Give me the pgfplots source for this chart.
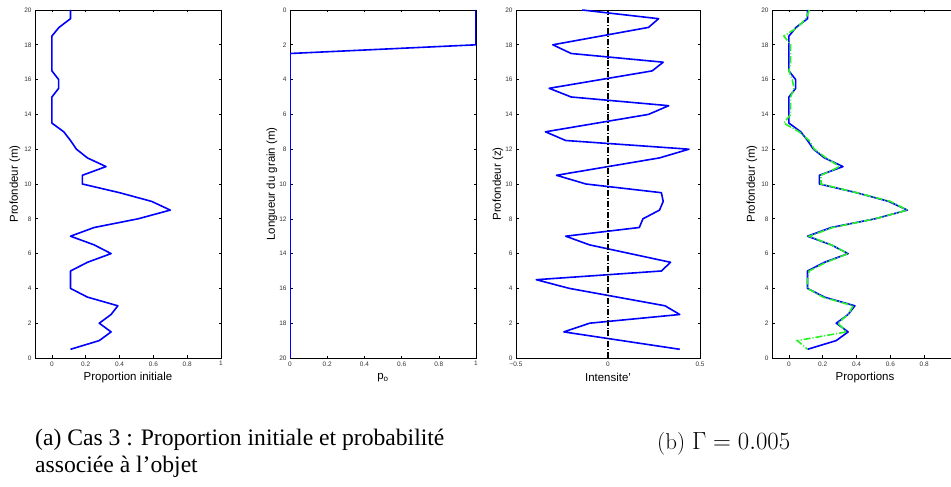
\documentclass[border=0pt]{standalone}
\usepackage{pgfplots}
\pgfplotsset{compat=1.18}
\usepackage{fontspec}
\newfontfamily\helv{Liberation Sans}
\newfontfamily\timesfont{Liberation Serif}
\definecolor{mblue}{rgb}{0,0,1}
\definecolor{mgreen}{rgb}{0.15,0.95,0.15}
\pgfplotsset{
  mat/.style={
    scale only axis, anchor=south west, width=186bp, height=348bp,
    ymin=0, ymax=20, ytick={0,2,...,20},
    tick align=inside, major tick length=2.5bp,
    axis line style={line width=0.9bp},
    every tick/.style={black, line width=0.6bp},
    /pgf/number format/assume math mode=true,
    tick label style={font=\helv\fontsize{6.5}{7}\selectfont, text=black!80},
    label style={font=\helv\fontsize{11.5}{13}\selectfont},
    xlabel style={at={(axis description cs:0.5,-0.056)}, anchor=center},
  },
  bl/.style={mblue, line width=1.6bp, line join=round},
}
\pgfplotstableread{
x y
0.11 20
0.11 19.5
0.042 19
0 18.5
0 18
0 17.5
0 17
0 16.5
0.04 16
0.04 15.5
0 15
0 14.5
0 14
0 13.5
0.07 13
0.11 12.5
0.145 12
0.21 11.5
0.32 11
0.18 10.5
0.18 10
0.40 9.5
0.59 9
0.70 8.5
0.51 8
0.25 7.5
0.11 7
0.25 6.5
0.35 6
0.21 5.5
0.11 5
0.11 4.5
0.11 4
0.21 3.5
0.39 3
0.35 2.5
0.28 2
0.35 1.5
0.28 1
0.11 0.5
}\proportion
\pgfplotstableread{
x y
0.12 20
0.10 19.5
0.05 19
-0.03 18.5
0.01 18
0.01 17.5
0.01 17
0.00 16.5
0.02 16
0.03 15.5
0.01 15
0.01 14.5
0.01 14
-0.03 13.5
0.06 13
0.12 12.5
0.15 12
0.22 11.5
0.30 11
0.19 10.5
0.19 10
0.40 9.5
0.60 9
0.70 8.5
0.51 8
0.26 7.5
0.12 7
0.25 6.5
0.35 6
0.22 5.5
0.12 5
0.11 4.5
0.11 4
0.20 3.5
0.38 3
0.35 2.5
0.29 2
0.34 1.5
0.05 1
0.11 0.5
}\estim
\pgfplotstableread{
x y
-0.14 20
0.275 19.5
0.22 19
-0.04 18.5
-0.30 18
-0.20 17.5
0.30 17
0.24 16.5
-0.04 16
-0.32 15.5
-0.20 15
0.33 14.5
0.22 14
-0.06 13.5
-0.34 13
-0.23 12.5
0.44 12
0.28 11.5
0.00 11
-0.28 10.5
-0.12 10
0.29 9.5
0.30 9
0.28 8.5
0.19 8
0.17 7.5
-0.23 7
-0.10 6.5
0.12 6
0.34 5.5
0.29 5
-0.39 4.5
-0.21 4
0.05 3.5
0.31 3
0.39 2.5
-0.10 2
-0.24 1.5
0.075 1
0.39 0.5
}\intens
\begin{document}
\begin{tikzpicture}
\path[use as bounding box] (0bp,0bp) rectangle (951bp,487bp);

% Panel 1
\begin{axis}[mat, at={(35bp,129bp)},
  xmin=-0.1, xmax=1, xtick={0,0.2,0.4,0.6,0.8,1},
  xlabel={Proportion initiale}, ylabel={Profondeur (m)},
  ylabel style={at={(axis description cs:-0.1075,0.5)}, anchor=center}]
\addplot[bl] table[x=x,y=y] {\proportion};
\end{axis}

% Panel 2
\begin{axis}[mat, at={(290bp,129bp)}, y dir=reverse,
  xmin=0, xmax=1, xtick={0,0.2,0.4,0.6,0.8,1},
  xlabel={p\textsubscript{o}}, ylabel={Longueur du grain (m)},
  ylabel style={at={(axis description cs:-0.097,0.5)}, anchor=center}]
\addplot[bl] coordinates {(1,0) (1,2) (0,2.5) (0,20)};
\end{axis}

% Panel 3
\begin{axis}[mat, at={(516bp,129bp)}, width=184bp,
  xmin=-0.5, xmax=0.5, xtick={-0.5,0,0.5}, xticklabels={−0.5,0,0.5},
  xlabel={Intensite’}, ylabel={Profondeur (z)},
  ylabel style={at={(axis description cs:-0.098,0.5)}, anchor=center}]
\addplot[bl] table[x=x,y=y] {\intens};
\addplot[black, line width=1.3bp, dash pattern=on 6bp off 2bp on 0.8bp off 2bp] coordinates {(0,0) (0,20)};
\end{axis}

% Panel 4
\begin{axis}[mat, at={(772bp,129bp)},
  xmin=-0.1, xmax=1, xtick={0,0.2,0.4,0.6,0.8},
  xlabel={Proportions}, ylabel={Profondeur (m)},
  ylabel style={at={(axis description cs:-0.1075,0.5)}, anchor=center}]
\addplot[bl] table[x=x,y=y] {\proportion};
\addplot[mgreen, line width=1.6bp, dash pattern=on 7bp off 2bp on 1bp off 2bp] table[x=x,y=y] {\estim};
\end{axis}

% Captions
\node[anchor=base west, inner sep=0pt, font=\timesfont\fontsize{23.7}{27}\selectfont] at (35bp,41bp) {(a) Cas 3 : Proportion initiale et probabilité};
\node[anchor=base west, inner sep=0pt, font=\timesfont\fontsize{23.7}{27}\selectfont] at (35bp,15bp) {associée à l’objet};
\node[anchor=base west, inner sep=0pt, font=\fontsize{23}{26}\selectfont] at (657bp,38bp) {(b) $\Gamma = 0.005$};
\end{tikzpicture}
\end{document}
